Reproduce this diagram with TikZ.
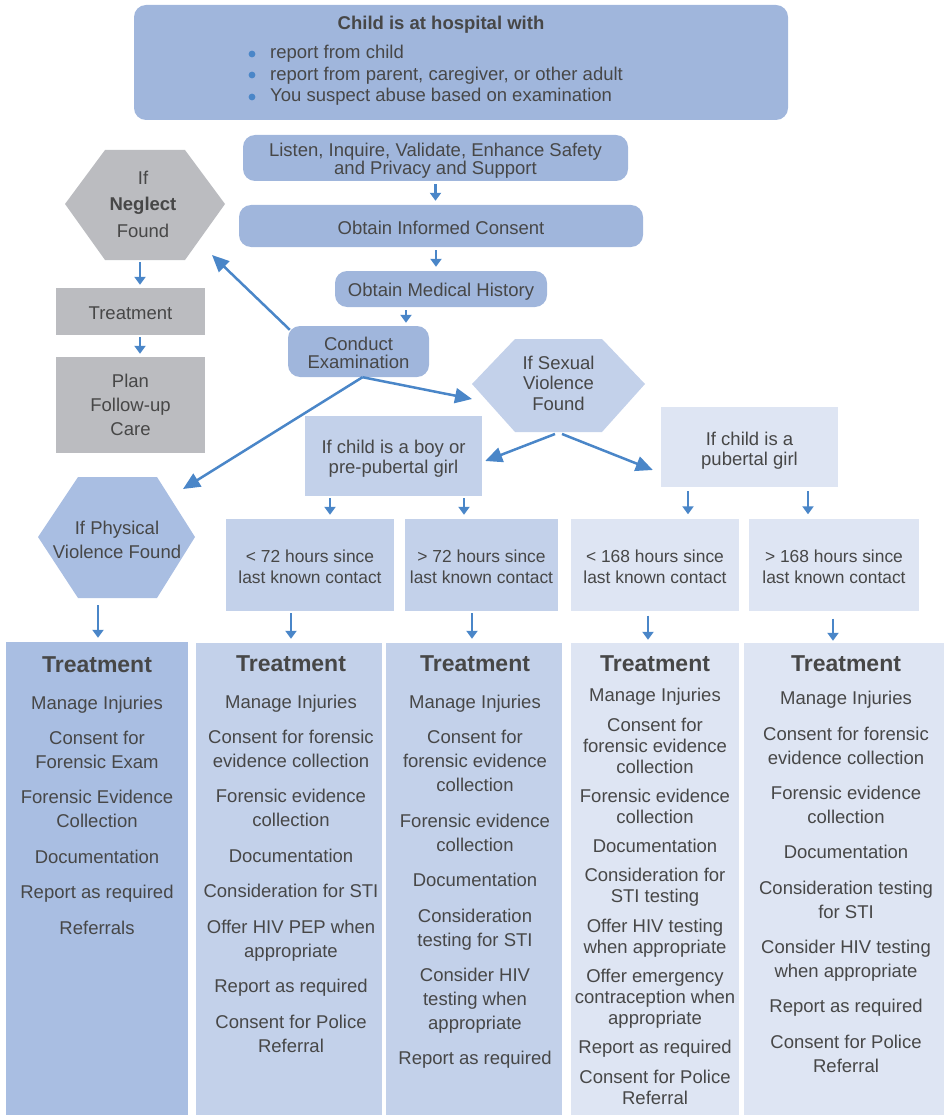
\documentclass[tikz,border=0pt]{standalone}
\usepackage{fontspec}
\setmainfont{Liberation Sans}
\usetikzlibrary{arrows.meta}
\definecolor{topblue}{HTML}{A0B6DC}
\definecolor{greyb}{HTML}{BBBCC0}
\definecolor{midblue}{HTML}{A9BEE2}
\definecolor{lightblue}{HTML}{C3D1EA}
\definecolor{paleblue}{HTML}{DEE5F3}
\definecolor{arrowc}{HTML}{4A86C8}
\definecolor{txt}{HTML}{474747}
\tikzset{
  base/.style={text=txt, align=center, inner sep=0pt, font=\fontsize{18.5}{23}\selectfont},
  rbox/.style={base, fill=topblue, rounded corners=12pt},
  sbox/.style={base, fill=#1},
  ttext/.style={base, font=\fontsize{17.4}{21}\selectfont},
  ctext/.style={base, font=\fontsize{18.5}{24}\selectfont},
  ctextb/.style={base, font=\fontsize{18.5}{21}\selectfont},
  ttl/.style={base, font=\fontsize{23}{23}\selectfont\bfseries},
  sarr/.style={draw=arrowc, line width=2.5pt, -{Triangle[length=8pt,width=11pt]}},
  larr/.style={draw=arrowc, line width=2.5pt, -{Triangle[length=17pt,width=15pt]}},
}
\begin{document}
\begin{tikzpicture}[x=1pt,y=-1pt]
\useasboundingbox (0,0) rectangle (946,1115);

% top box
\node[rbox, minimum width=654, minimum height=115] (top) at (461,62.5) {};
\node[base, font=\fontsize{18.5}{23}\selectfont\bfseries] (title) at (441,25) {Child is at hospital with};
\node[base, anchor=west] (b1) at (270,54) {report from child};
\node[base, anchor=west] (b2) at (270,75.5) {report from parent, caregiver, or other adult};
\node[base, anchor=west] (b3) at (270,97) {You suspect abuse based on examination};
\fill[arrowc] (252,54) circle (3.4) (252,75) circle (3.4) (252,97) circle (3.4);

% process boxes
\node[rbox, minimum width=385, minimum height=46] (listen) at (435.5,158) {};
\node[base, font=\fontsize{18.5}{18}\selectfont] (listent) at (435.5,161) {Listen, Inquire, Validate, Enhance Safety\\and Privacy and Support};
\node[rbox, minimum width=404, minimum height=42] (consent) at (441,226) {};
\node[base] (consentt) at (441,228) {Obtain Informed Consent};
\node[rbox, minimum width=212, minimum height=36] (medical) at (441,289) {};
\node[base] (medicalt) at (441,292) {Obtain Medical History};
\node[rbox, minimum width=141, minimum height=51] (exam) at (358.5,351.5) {};
\node[base, font=\fontsize{18.5}{18}\selectfont] (examt) at (358.5,352.5) {Conduct\\Examination};

% neglect branch
\fill[greyb] (65,204)--(105,150)--(185,150)--(225,204)--(185,260)--(105,260)--cycle;
\node[base, font=\fontsize{18.5}{26.5}\selectfont] (neglect) at (143,204) {If\\\textbf{Neglect}\\Found};
\coordinate (neglectB) at (140,260);
\coordinate (neglectTip) at (212,255);
\node[sbox=greyb, minimum width=149, minimum height=47] (treatG) at (130.5,311.5) {};
\node[base] (treatGt) at (130.5,313.5) {Treatment};
\node[sbox=greyb, minimum width=149, minimum height=96, font=\fontsize{18.5}{24}\selectfont] (plan) at (130.5,405) {Plan\\Follow-up\\Care};

% sexual violence
\fill[lightblue] (472,384)--(515,339)--(602,339)--(645,384)--(602,432)--(515,432)--cycle;
\node[base, font=\fontsize{18.5}{20.5}\selectfont] (sexual) at (558.5,383) {If Sexual\\Violence\\Found};
\coordinate (sexL) at (472,399);
\coordinate (sexB1) at (555,434);
\coordinate (sexB2) at (562,434);

% physical violence
\fill[midblue] (38,537)--(78,477)--(157,477)--(195,537)--(157,598)--(78,598)--cycle;
\node[base, font=\fontsize{18.5}{24}\selectfont] (phys) at (117,540) {If Physical\\Violence Found};
\coordinate (physTip) at (183,489);
\coordinate (physB) at (98,598);

% child boxes
\node[sbox=lightblue, minimum width=177, minimum height=80] (boy) at (393.5,456) {};
\node[base, font=\fontsize{18.5}{20}\selectfont] (boyt) at (393.5,459) {If child is a boy or\\pre-pubertal girl};
\node[sbox=paleblue, minimum width=177, minimum height=80] (pub) at (749.5,447) {};
\node[base, font=\fontsize{18.5}{20}\selectfont] (pubt) at (749.5,450.5) {If child is a\\pubertal girl};

% time boxes
\node[sbox=lightblue, minimum width=168, minimum height=92] (t1) at (310,565) {};
\node[ttext] (t1t) at (310,567) {< 72 hours since\\last known contact};
\node[sbox=lightblue, minimum width=153, minimum height=92] (t2) at (481.5,565) {};
\node[ttext] (t2t) at (481.5,567) {> 72 hours since\\last known contact};
\node[sbox=paleblue, minimum width=168, minimum height=92] (t3) at (655,564.5) {};
\node[ttext] (t3t) at (655,567) {< 168 hours since\\last known contact};
\node[sbox=paleblue, minimum width=170, minimum height=92] (t4) at (834,564.5) {};
\node[ttext] (t4t) at (834,567) {> 168 hours since\\last known contact};

% treatment columns
\node[sbox=midblue, minimum width=182, minimum height=473] (c1) at (97,878.5) {};
\node[sbox=lightblue, minimum width=186, minimum height=472] (c2) at (289,879) {};
\node[sbox=lightblue, minimum width=176, minimum height=472] (c3) at (474,879) {};
\node[sbox=paleblue, minimum width=168, minimum height=472] (c4) at (655,879) {};
\node[sbox=paleblue, minimum width=200, minimum height=472] (c5) at (844,879) {};

\node[ttl] (c1h) at (97,665) {Treatment};
\node[ttl] (c2h) at (291,664) {Treatment};
\node[ttl] (c3h) at (475,664) {Treatment};
\node[ttl] (c4h) at (655,664) {Treatment};
\node[ttl] (c5h) at (846,664) {Treatment};

\foreach \n/\y/\t in {a/705/{Manage Injuries}, b/750/{Consent for\\Forensic Exam}, c/809/{Forensic Evidence\\Collection}, d/857/{Documentation}, e/894/{Report as required}, f/928/{Referrals}}
  \node[ctext] (c1\n) at (97,\y) {\t};

\foreach \n/\y/\t in {a/704/{Manage Injuries}, b/748.5/{Consent for forensic\\evidence collection}, c/808/{Forensic evidence\\collection}, d/856/{Documentation}, e/891/{Consideration for STI}, f/941/{Offer HIV PEP when\\appropriate}, g/988/{Report as required}, h/1034/{Consent for Police\\Referral}}
  \node[ctext] (c2\n) at (291,\y) {\t};

\foreach \n/\y/\t in {a/704/{Manage Injuries}, b/761/{Consent for\\forensic evidence\\collection}, c/832.5/{Forensic evidence\\collection}, d/880/{Documentation}, e/930/{Consideration\\testing for STI}, f/1001/{Consider HIV\\testing when\\appropriate}, g/1060/{Report as required}}
  \node[ctext] (c3\n) at (475,\y) {\t};

\foreach \n/\y/\t in {a/697/{Manage Injuries}, b/746/{Consent for\\forensic evidence\\collection}, c/806/{Forensic evidence\\collection}, d/846/{Documentation}, e/887.5/{Consideration for\\STI testing}, f/938.5/{Offer HIV testing\\when appropriate}, g/999/{Offer emergency\\contraception when\\appropriate}, h/1049/{Report as required}, i/1087/{Consent for Police\\Referral}}
  \node[ctextb] (c4\n) at (655,\y) {\t};

\foreach \n/\y/\t in {a/700/{Manage Injuries}, b/746/{Consent for forensic\\evidence collection}, c/805/{Forensic evidence\\collection}, d/852/{Documentation}, e/900/{Consideration testing\\for STI}, f/961/{Consider HIV testing\\when appropriate}, g/1008/{Report as required}, h/1054/{Consent for Police\\Referral}}
  \node[ctext] (c5\n) at (846,\y) {\t};

% connectors
\draw[sarr, shorten <=3pt, shorten >=4pt] (listen.south) -- (listen.south |- consent.north);
\draw[sarr, shorten <=3pt, shorten >=4pt] ([xshift=-5]consent.south) -- ([xshift=-5]consent.south |- medical.north);
\draw[sarr, shorten <=3pt, shorten >=3pt] ([xshift=-35]medical.south) -- ([xshift=-35]medical.south |- exam.north);
\draw[sarr, shorten <=2pt, shorten >=3pt] (neglectB) -- (neglectB |- treatG.north);
\draw[sarr, shorten <=2pt, shorten >=3pt] ([xshift=9.5]treatG.south) -- ([xshift=9.5]treatG.south |- plan.north);
\draw[larr] ([shift={(2,4)}]exam.north west) -- (neglectTip);
\draw[larr] ([xshift=4]exam.south) -- (sexL);
\draw[larr] ([xshift=4]exam.south) -- (physTip);
\draw[larr] (sexB1) -- ([shift={(3,5)}]boy.east);
\draw[larr] (sexB2) -- ([shift={(-8,23)}]pub.west);
\draw[sarr, shorten <=2pt, shorten >=4pt] ([xshift=-63.5]boy.south) -- ([xshift=-63.5]boy.south |- t1.north);
\draw[sarr, shorten <=2pt, shorten >=4pt] ([xshift=70.5]boy.south) -- ([xshift=70.5]boy.south |- t2.north);
\draw[sarr, shorten <=4pt, shorten >=4pt] ([xshift=-61.5]pub.south) -- ([xshift=-61.5]pub.south |- t3.north);
\draw[sarr, shorten <=4pt, shorten >=4pt] ([xshift=58.5]pub.south) -- ([xshift=58.5]pub.south |- t4.north);
\draw[sarr, shorten <=7pt, shorten >=4pt] (physB) -- (physB |- c1.north);
\draw[sarr, shorten <=2pt, shorten >=4pt] ([xshift=-19]t1.south) -- ([xshift=-19]t1.south |- c2.north);
\draw[sarr, shorten <=2pt, shorten >=4pt] ([xshift=-9.5]t2.south) -- ([xshift=-9.5]t2.south |- c3.north);
\draw[sarr, shorten <=5pt, shorten >=3pt] ([xshift=-7]t3.south) -- ([xshift=-7]t3.south |- c4.north);
\draw[sarr, shorten <=8pt, shorten >=2pt] ([xshift=-1]t4.south) -- ([xshift=-1]t4.south |- c5.north);
\end{tikzpicture}
\end{document}
